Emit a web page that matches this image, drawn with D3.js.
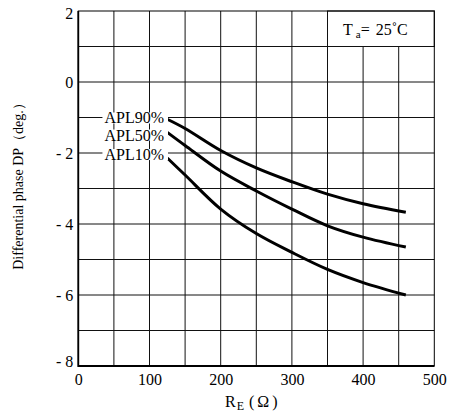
<!DOCTYPE html>
<html>
<head>
<meta charset="utf-8">
<script src="https://cdn.jsdelivr.net/npm/d3@7"></script>
<style>
  body { margin: 0; background: #fff; }
  text { font-family: "Liberation Serif", "Times New Roman", serif; fill: #000; }
</style>
</head>
<body>
<div id="chart"></div>
<script>
var width = 455;
var height = 414;

// emitter resistance (ohm)
var resistance = [125, 150, 200, 250, 300, 350, 400, 460];
// differential phase (deg.) per APL level
var apl90 = [-1.05, -1.31, -1.93, -2.42, -2.81, -3.16, -3.43, -3.67];
var apl50 = [-1.42, -1.79, -2.51, -3.07, -3.58, -4.05, -4.37, -4.65];
var apl10 = [-2.14, -2.62, -3.58, -4.27, -4.80, -5.28, -5.65, -6.00];
var seriesNames = ["APL90%", "APL50%", "APL10%"];
var labelY = [-1.02, -1.5, -2.05];

var xTicks = [0, 100, 200, 300, 400, 500];
var yTicks = [2, 0, -2, -4, -6, -8];

var xScale = d3.scaleLinear().domain([0, 500]).range([78.3, 434.3]);
var yScale = d3.scaleLinear().domain([-8, 2]).range([366, 11]);

var svg = d3.select("#chart")
    .append("svg")
    .attr("width", width)
    .attr("height", height);

// grid
var grid = svg.append("g").attr("stroke", "#111").attr("stroke-width", 1);
grid.selectAll("line.v")
    .data(d3.range(50, 500, 50))
    .enter()
    .append("line")
    .attr("x1", function(d) { return xScale(d); })
    .attr("x2", function(d) { return xScale(d); })
    .attr("y1", yScale(2))
    .attr("y2", yScale(-8));
grid.selectAll("line.h")
    .data(d3.range(-7, 2, 1))
    .enter()
    .append("line")
    .attr("x1", xScale(0))
    .attr("x2", xScale(500))
    .attr("y1", function(d) { return yScale(d); })
    .attr("y2", function(d) { return yScale(d); });

// Ta box
svg.append("rect")
    .attr("x", xScale(350))
    .attr("y", yScale(2))
    .attr("width", xScale(500) - xScale(350))
    .attr("height", yScale(1) - yScale(2))
    .attr("fill", "#fff")
    .attr("stroke", "#111");
var ta = svg.append("text")
    .attr("x", 343)
    .attr("y", 35)
    .style("font-size", "16px");
ta.append("tspan").text("T");
ta.append("tspan").attr("dx", 3).attr("dy", 3).style("font-size", "11px").text("a");
ta.append("tspan").attr("dy", -3).text("=");
ta.append("tspan").attr("dx", 6).text("25˚C");

// frame
svg.append("rect")
    .attr("x", xScale(0))
    .attr("y", yScale(2))
    .attr("width", xScale(500) - xScale(0))
    .attr("height", yScale(-8) - yScale(2))
    .attr("fill", "none")
    .attr("stroke", "#000")
    .attr("stroke-width", 1);
svg.append("path")
    .attr("d", "M" + xScale(0) + "," + yScale(2) + "V" + yScale(-8) + "H" + xScale(500))
    .attr("fill", "none")
    .attr("stroke", "#000")
    .attr("stroke-width", 1.8);

// axes
var yAxis = d3.axisLeft(yScale)
    .tickValues(yTicks)
    .tickSize(0)
    .tickPadding(5)
    .tickFormat(function(d) { return d < 0 ? "- " + Math.abs(d) : d; });
var yG = svg.append("g")
    .attr("transform", "translate(" + xScale(0) + ",0)")
    .call(yAxis);
yG.select(".domain").remove();
yG.selectAll("text")
    .style("font-family", "Liberation Serif, serif")
    .style("font-size", "16px")
    .attr("dy", function(d) { return d === -8 ? "0.05em" : (d === 2 ? "0.45em" : "0.32em"); });

var xAxis = d3.axisBottom(xScale)
    .tickValues(xTicks)
    .tickSize(0)
    .tickPadding(8);
var xG = svg.append("g")
    .attr("transform", "translate(0," + yScale(-8) + ")")
    .call(xAxis);
xG.select(".domain").remove();
xG.selectAll("text")
    .style("font-family", "Liberation Serif, serif")
    .style("font-size", "16px");

// axis titles
var xt = svg.append("text")
    .attr("x", 225)
    .attr("y", 407)
    .style("font-size", "16px");
xt.append("tspan").text("R");
xt.append("tspan").attr("dx", 1).attr("dy", 3).style("font-size", "12px").text("E");
xt.append("tspan").attr("dx", 5).attr("dy", -3).text("(");
xt.append("tspan").attr("dx", 3).text("Ω");
xt.append("tspan").attr("dx", 3).text(")");

svg.append("text")
    .attr("transform", "translate(23,183) rotate(-90)")
    .attr("text-anchor", "middle")
    .style("font-size", "14px")
    .text("Differential phase DP（deg.）");

// curves
var line = d3.line()
    .x(function(d) { return xScale(d[0]); })
    .y(function(d) { return yScale(d[1]); })
    .curve(d3.curveCatmullRom.alpha(0.5));

[apl90, apl50, apl10].forEach(function(vals) {
    svg.append("path")
        .datum(resistance.map(function(r, i) { return [r, vals[i]]; }))
        .attr("d", line)
        .attr("fill", "none")
        .attr("stroke", "#000")
        .attr("stroke-width", 3);
});

// series labels with white backing
seriesNames.forEach(function(name, i) {
    var g = svg.append("g");
    var bg = g.append("rect").attr("fill", "#fff");
    var t = g.append("text")
        .attr("x", 164)
        .attr("y", yScale(labelY[i]))
        .attr("dy", "0.33em")
        .attr("text-anchor", "end")
        .style("font-size", "16px")
        .text(name);
    var b = t.node().getBBox();
    bg.attr("x", b.x - 2).attr("y", b.y + 3).attr("width", b.width + 6).attr("height", b.height - 6);
});
</script>
</body>
</html>
